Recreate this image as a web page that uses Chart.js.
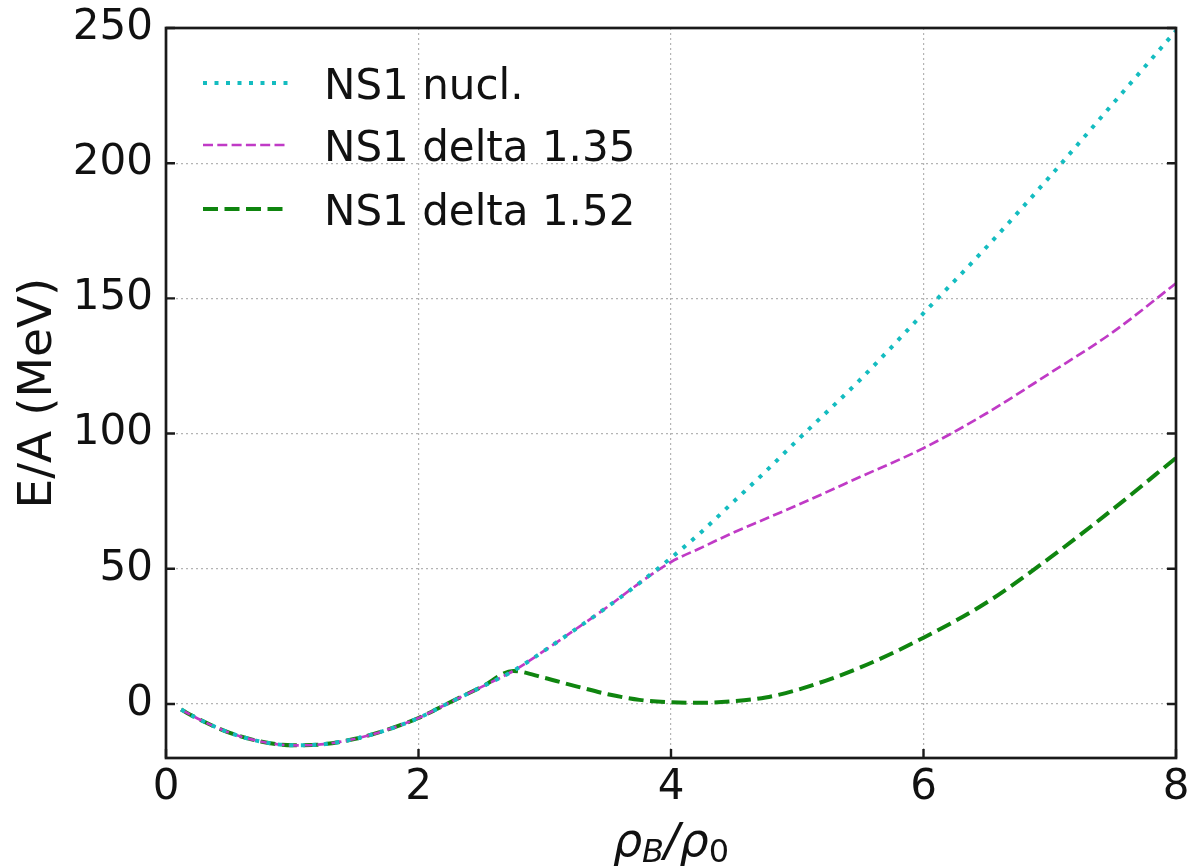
<!DOCTYPE html>
<html><head><meta charset="utf-8">
<script src="https://cdn.jsdelivr.net/npm/chart.js@4/dist/chart.umd.min.js"></script>
<style>html,body{margin:0;padding:0;background:#fff;} #wrap{width:1187px;height:868px;position:relative;}</style>
</head><body><div id="wrap"><canvas id="c"></canvas></div>
<script>
const density = [0.12,0.25,0.5,0.75,1.0,1.25,1.5,1.75,2.0,2.25,2.5,2.75,3.0,3.25,3.5,3.75,4.0,4.25,4.5,4.75,5.0,5.5,6.0,6.5,7.0,7.5,8.0];
const nuclEA     = [-2.1,-5.4,-10.6,-13.9,-15.3,-14.9,-12.9,-9.6,-5.2,0.6,6.3,12.2,19.8,27.8,36.0,44.7,54.0,64.0,75.0,86.0,97.5,120.0,144.5,169.0,195.0,222.0,249.0];
const delta135EA = [-2.1,-5.4,-10.6,-13.9,-15.3,-14.9,-12.9,-9.6,-5.2,0.6,6.3,12.2,19.8,27.8,36.0,44.7,52.5,58.0,63.5,68.5,73.5,84.0,94.6,107.5,122.3,137.5,155.6];
const delta152EA = [-2.1,-5.4,-10.6,-13.9,-15.3,-14.9,-12.9,-9.6,-5.2,0.6,6.3,12.2,9.6,6.5,3.6,1.5,0.6,0.4,1.0,2.4,5.2,13.5,24.5,37.5,54.0,72.0,91.0];
const seriesLabels = ['NS1 nucl.','NS1 delta 1.35','NS1 delta 1.52'];
const xTickValues = [0,2,4,6,8];
const yTickValues = [0,50,100,150,200,250];
const yAxisLabel = 'E/A (MeV)';

const FONT = 'DejaVu Sans';
const pts = arr => density.map((x,i)=>({x:x,y:arr[i]}));
const noPad = s => { s.paddingLeft=0; s.paddingRight=0; s.paddingTop=0; s.paddingBottom=0; };

const decorPlugin = {
  id:'decor',
  afterDraw(chart){
    const {ctx, chartArea:a, scales:{x,y}} = chart;
    ctx.save();
    ctx.strokeStyle='#1a1a1a'; ctx.lineWidth=2.4; ctx.setLineDash([]);
    ctx.beginPath();
    xTickValues.forEach(v=>{const px=x.getPixelForValue(v); ctx.moveTo(px,a.bottom); ctx.lineTo(px,a.bottom-9);});
    yTickValues.forEach(v=>{const py=y.getPixelForValue(v); ctx.moveTo(a.left,py); ctx.lineTo(a.left+9,py); ctx.moveTo(a.right,py); ctx.lineTo(a.right-9,py);});
    ctx.stroke();
    ctx.lineWidth=2.7;
    ctx.strokeRect(a.left,a.top,a.right-a.left,a.bottom-a.top);
    const rows=[83,145,209];
    chart.data.datasets.forEach((ds,i)=>{
      ctx.save();
      ctx.strokeStyle=ds.borderColor; ctx.lineWidth=ds.borderWidth;
      ctx.setLineDash(ds.borderDash||[]); ctx.lineCap=ds.borderCapStyle||'butt';
      ctx.beginPath(); ctx.moveTo(203,rows[i]); ctx.lineTo(288,rows[i]); ctx.stroke();
      ctx.restore();
      ctx.fillStyle='#111'; ctx.font='42px "'+FONT+'"'; ctx.textBaseline='alphabetic'; ctx.textAlign='left';
      ctx.fillText(ds.label,324,rows[i]+15.5);
    });
    const big=46, small=32, base=856, sub=6;
    const parts=[
      {t:'ρ',f:'italic '+big+'px "'+FONT+'"',dy:0},
      {t:'B',f:'italic '+small+'px "'+FONT+'"',dy:sub},
      {t:'/',f:'italic '+big+'px "'+FONT+'"',dy:0},
      {t:'ρ',f:'italic '+big+'px "'+FONT+'"',dy:0},
      {t:'0',f:small+'px "'+FONT+'"',dy:sub}
    ];
    let total=0;
    parts.forEach(p=>{ctx.font=p.f; p.w=ctx.measureText(p.t).width; total+=p.w;});
    let cx=(a.left+a.right)/2-total/2;
    ctx.fillStyle='#111'; ctx.textAlign='left'; ctx.textBaseline='alphabetic';
    parts.forEach(p=>{ctx.font=p.f; ctx.fillText(p.t,cx,base+p.dy); cx+=p.w;});
    ctx.restore();
  }
};

new Chart(document.getElementById('c'),{
  type:'line',
  data:{datasets:[
    {label:seriesLabels[0],data:pts(nuclEA),borderColor:'#14bcc0',borderWidth:4,borderDash:[4,7.5],borderCapStyle:'butt',pointRadius:0,fill:false,cubicInterpolationMode:'monotone'},
    {label:seriesLabels[1],data:pts(delta135EA),borderColor:'#c03ac6',borderWidth:2.7,borderDash:[10,4.3],borderCapStyle:'butt',pointRadius:0,fill:false,cubicInterpolationMode:'monotone'},
    {label:seriesLabels[2],data:pts(delta152EA),borderColor:'#0f850f',borderWidth:4,borderDash:[15,6.5],borderCapStyle:'butt',pointRadius:0,fill:false,cubicInterpolationMode:'monotone'}
  ]},
  options:{
    responsive:true, maintainAspectRatio:false, animation:false,
    layout:{padding:{left:0,right:11,top:28,bottom:0}},
    plugins:{legend:{display:false},tooltip:{enabled:false}},
    scales:{
      x:{type:'linear',min:0,max:8,
        afterBuildTicks:s=>{s.ticks=xTickValues.map(v=>({value:v}));},
        afterFit:s=>{s.height=110; noPad(s);},
        grid:{color:'#b4b4b4',lineWidth:1.2,drawTicks:false},
        border:{display:false,dash:[2,3]},
        ticks:{font:{family:FONT,size:42},color:'#111',padding:5,maxRotation:0,autoSkip:false},
        title:{display:false}},
      y:{type:'linear',min:-20,max:250,
        afterBuildTicks:s=>{s.ticks=yTickValues.map(v=>({value:v}));},
        afterFit:s=>{s.width=166; noPad(s);},
        grid:{color:'#b4b4b4',lineWidth:1.2,drawTicks:false},
        border:{display:false,dash:[2,3]},
        ticks:{font:{family:FONT,size:42},color:'#111',padding:13,autoSkip:false},
        title:{display:true,text:yAxisLabel,font:{family:FONT,size:47},color:'#111',padding:{top:11,bottom:0}}}
    }
  },
  plugins:[decorPlugin]
});
</script></body></html>
